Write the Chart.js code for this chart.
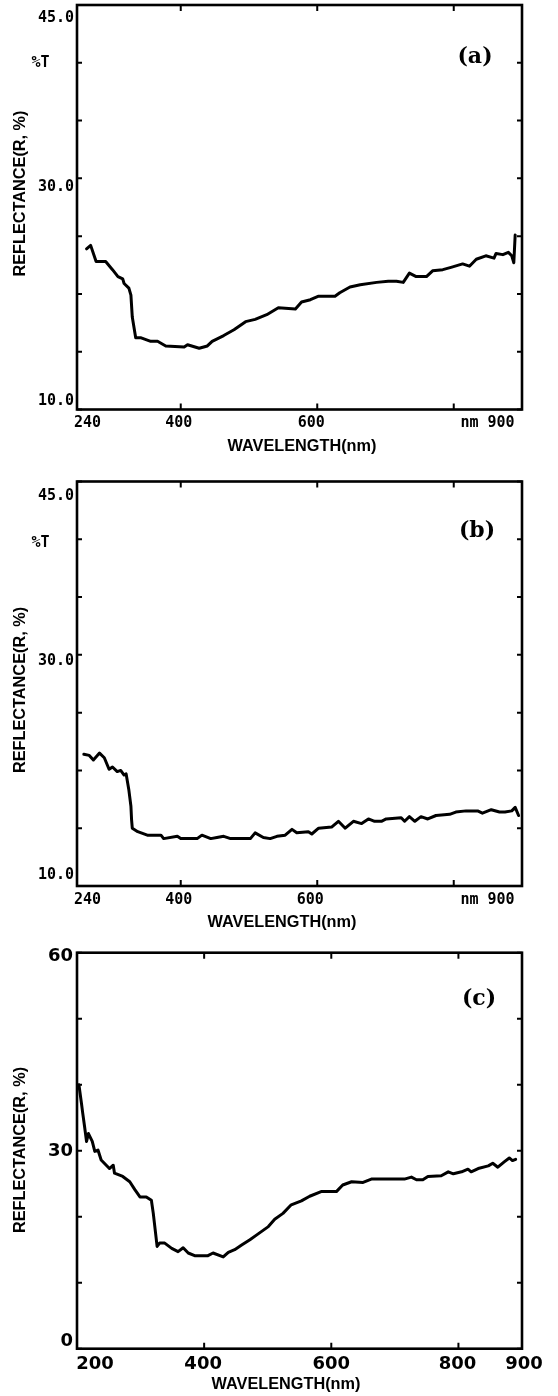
<!DOCTYPE html>
<html><head><meta charset="utf-8">
<script src="https://cdn.jsdelivr.net/npm/chart.js@4.4.1/dist/chart.umd.min.js"></script>
<style>
html,body{margin:0;padding:0;background:#fff;}
body{width:558px;height:1396px;position:relative;overflow:hidden;}
canvas{position:absolute;left:0;}
</style></head><body>
<canvas id="ca" width="558" height="466" style="top:0px"></canvas>
<canvas id="cb" width="558" height="466" style="top:466px"></canvas>
<canvas id="cc" width="558" height="464" style="top:932px"></canvas>
<script>
// ---------- DATA ----------
const wavelengthA = [262,268,276,290,300,308,315,317,324,327,329,334,342,356,366,378,405,410,427,439,446,463,478,495,509,526,543,568,577,590,602,626,633,648,663,687,704,716,726,735,745,760,769,784,796,813,823,833,847,859,862,872,880,885,888,890];
const reflectanceA = [23.9,24.2,22.8,22.8,22.1,21.5,21.3,20.9,20.5,19.9,18.0,16.2,16.2,15.9,15.9,15.5,15.4,15.6,15.3,15.5,15.9,16.4,16.9,17.6,17.8,18.2,18.8,18.7,19.3,19.5,19.8,19.8,20.1,20.6,20.8,21.0,21.1,21.1,21.0,21.8,21.5,21.5,22.0,22.1,22.3,22.6,22.4,23.0,23.3,23.1,23.5,23.4,23.6,23.3,22.7,25.1];

const wavelengthB = [258,266,272,281,288,295,300,307,312,317,320,324,327,328,329,337,351,371,375,395,400,424,431,444,453,463,473,502,509,521,531,541,553,563,570,587,592,602,621,631,641,653,665,675,684,694,701,723,728,735,743,752,762,774,794,803,818,835,842,855,867,875,885,890,895];
const reflectanceB = [21.4,21.3,20.9,21.5,21.1,20.1,20.3,19.9,20.0,19.6,19.7,18.3,16.9,15.7,15.0,14.7,14.4,14.4,14.1,14.3,14.1,14.1,14.4,14.1,14.2,14.3,14.1,14.1,14.6,14.2,14.1,14.3,14.4,14.9,14.6,14.7,14.5,15.0,15.1,15.6,15.0,15.6,15.4,15.8,15.6,15.6,15.8,15.9,15.6,16.0,15.6,16.0,15.8,16.1,16.2,16.4,16.5,16.5,16.3,16.6,16.4,16.4,16.5,16.8,16.1];

const wavelengthC = [203,207,209,212,215,218,224,228,233,238,251,257,259,272,283,291,299,309,317,320,323,326,330,338,349,359,367,375,385,406,414,430,438,448,459,472,485,501,511,524,537,553,566,584,608,618,632,650,663,715,726,734,744,752,773,784,792,805,815,820,831,847,854,862,872,880,885,890];
const reflectanceC = [40.0,37.2,35.7,33.6,31.4,32.6,31.4,29.9,30.1,28.6,27.3,27.8,26.6,26.1,25.3,24.1,23.0,23.0,22.5,20.5,18.0,15.5,16.0,16.0,15.2,14.7,15.3,14.5,14.1,14.1,14.5,13.9,14.6,15.0,15.7,16.5,17.4,18.5,19.6,20.5,21.8,22.4,23.1,23.8,23.8,24.8,25.3,25.2,25.7,25.7,26.0,25.6,25.6,26.1,26.2,26.8,26.5,26.8,27.2,26.8,27.3,27.7,28.1,27.5,28.3,28.9,28.5,28.7];

// axis ranges and ticks
const xRangeAB = [248, 900];
const yRangeAB = [10, 45];
const yTickMarksAB = [45,40,35,30,25,20,15,10];
const yLabelValsAB = [45,30,10];
const yLabelsAB = ['45.0','30.0','10.0'];
const xTickMarksAB = [400,600,800];
const xLabelValsAB = [240,400,600,900];
const xLabelsAB = ['240','400','600','nm 900'];

const xRangeC = [200, 900];
const yRangeC = [0, 60];
const yTickMarksC = [60,50,40,30,20,10,0];
const yLabelValsC = [60,30,0];
const yLabelsC = ['60','30','0'];
const xTickMarksC = [400,600,800];
const xLabelValsC = [200,400,600,800,900];
const xLabelsC = ['200','400','600','800','900'];

const yTitle = 'REFLECTANCE(R, %)';
const xTitle = 'WAVELENGTH(nm)';

// ---------- LOOK (positions / styles) ----------
const MONO = 'bold 15px "DejaVu Sans Mono"';
const TITLE = 'bold 16.3px "Liberation Sans", Arial, sans-serif';
const lookA = {top:5, xAxisH:56.5, tickFont:MONO, yGap:3, yDy:[13.5,9,-8.5], xDx:[16,-2,-6,-34.5], xDy:14,
  yTitleDy:-13.7, xTitleDx:2.5, xTitleDy:37.5, letter:'(a)', letterX:475, letterDy:52.5, pctT:true, pctDy:0};
const lookB = {top:15.5, xAxisH:46, tickFont:MONO, yGap:3, yDy:[15,6,-11], xDx:[16,-2,-7,-34.5], xDy:14,
  yTitleDy:6.2, xTitleDx:-17.5, xTitleDy:37, letter:'(b)', letterX:477, letterDy:49.5, pctT:true, pctDy:4};
const lookC = {top:20.7, xAxisH:47.3, tickFont:'bold 18px "DejaVu Sans", sans-serif', yGap:4, yDy:[4,1,-7], xDx:[18,-1,0,-1,2], xDy:16,
  yTitleDy:-0.7, xTitleDx:-13.5, xTitleDy:36.3, letter:'(c)', letterX:479, letterDy:46.3, pctT:false, pctDy:0};

function makePanel(id, xs, ys, xRange, yRange, yMarks, yLabVals, yLabs, xMarks, xLabVals, xLabs, look) {
  const deco = {
    id: 'deco',
    afterDraw(chart) {
      const {ctx, chartArea: ca, scales: {x, y}} = chart;
      ctx.save();
      ctx.strokeStyle = '#000'; ctx.fillStyle = '#000';
      ctx.lineWidth = 2.6;
      ctx.strokeRect(ca.left, ca.top, ca.right - ca.left, ca.bottom - ca.top);
      ctx.lineWidth = 2;
      ctx.beginPath();
      yMarks.forEach(v => {
        const py = y.getPixelForValue(v);
        ctx.moveTo(ca.left, py); ctx.lineTo(ca.left + 5, py);
        ctx.moveTo(ca.right, py); ctx.lineTo(ca.right - 5, py);
      });
      xMarks.forEach(v => {
        const px = x.getPixelForValue(v);
        ctx.moveTo(px, ca.bottom); ctx.lineTo(px, ca.bottom - 6);
        ctx.moveTo(px, ca.top); ctx.lineTo(px, ca.top + 6);
      });
      ctx.stroke();
      // tick labels
      ctx.font = look.tickFont;
      ctx.textAlign = 'right'; ctx.textBaseline = 'middle';
      yLabVals.forEach((v, i) => ctx.fillText(yLabs[i], ca.left - look.yGap, y.getPixelForValue(v) + look.yDy[i]));
      ctx.textAlign = 'center';
      xLabVals.forEach((v, i) => ctx.fillText(xLabs[i], x.getPixelForValue(v) + look.xDx[i], ca.bottom + look.xDy));
      if (look.pctT) ctx.fillText('%T', 40.5, y.getPixelForValue(40) + look.pctDy);
      // axis titles
      ctx.font = TITLE;
      ctx.fillText(xTitle, (ca.left + ca.right) / 2 + look.xTitleDx, ca.bottom + look.xTitleDy);
      ctx.save();
      ctx.translate(21, (ca.top + ca.bottom) / 2 + look.yTitleDy);
      ctx.rotate(-Math.PI / 2);
      ctx.fillText(yTitle, 0, 0);
      ctx.restore();
      // panel letter
      ctx.font = 'bold 22px "DejaVu Serif", serif';
      ctx.fillText(look.letter, look.letterX, ca.top + look.letterDy);
      ctx.restore();
    }
  };
  return new Chart(document.getElementById(id), {
    type: 'line',
    data: { datasets: [{
      data: xs.map((w, i) => ({x: w, y: ys[i]})),
      borderColor: '#000', borderWidth: 3, pointRadius: 0, tension: 0, fill: false,
      borderJoinStyle: 'round', borderCapStyle: 'round'
    }]},
    options: {
      responsive: false, animation: false, events: [],
      layout: {padding: {top: look.top, right: 36, left: 0, bottom: 0}},
      plugins: {legend: {display: false}, tooltip: {enabled: false}},
      scales: {
        x: {type: 'linear', min: xRange[0], max: xRange[1], ticks: {display: false}, grid: {display: false}, border: {display: false},
            afterFit(s) { s.height = look.xAxisH; }},
        y: {type: 'linear', min: yRange[0], max: yRange[1], ticks: {display: false}, grid: {display: false}, border: {display: false},
            afterFit(s) { s.width = 77; }}
      }
    },
    plugins: [deco]
  });
}

makePanel('ca', wavelengthA, reflectanceA, xRangeAB, yRangeAB, yTickMarksAB, yLabelValsAB, yLabelsAB, xTickMarksAB, xLabelValsAB, xLabelsAB, lookA);
makePanel('cb', wavelengthB, reflectanceB, xRangeAB, yRangeAB, yTickMarksAB, yLabelValsAB, yLabelsAB, xTickMarksAB, xLabelValsAB, xLabelsAB, lookB);
makePanel('cc', wavelengthC, reflectanceC, xRangeC, yRangeC, yTickMarksC, yLabelValsC, yLabelsC, xTickMarksC, xLabelValsC, xLabelsC, lookC);
</script>
</body></html>
